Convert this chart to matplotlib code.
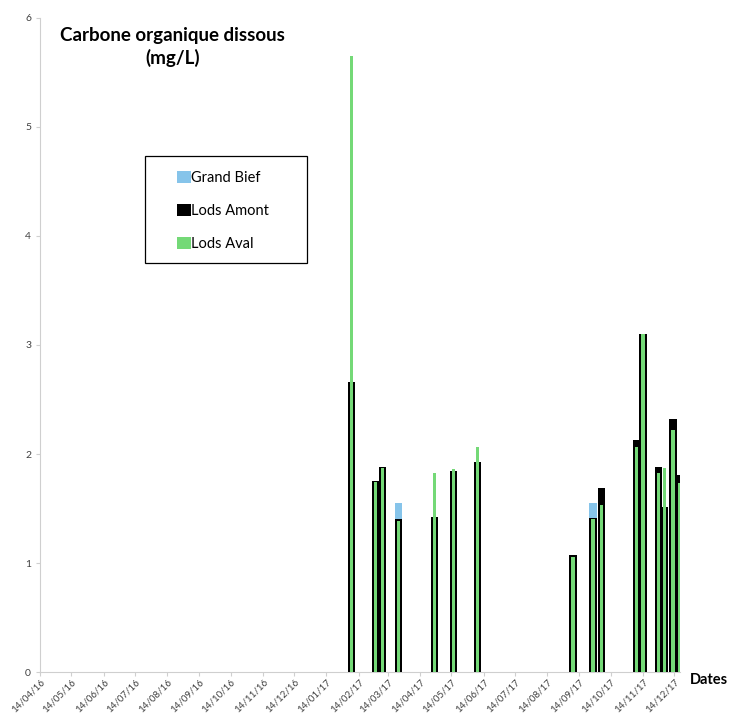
import pandas as pd
import numpy as np
import matplotlib.pyplot as plt
import matplotlib.dates as mdates
from matplotlib.patches import Rectangle

plt.rcParams['font.family'] = ['Lato', 'DejaVu Sans']

# Sampling dates and dissolved organic carbon (mg/L) per station
dates = ["07/02/17", "02/03/17", "09/03/17", "24/03/17", "28/04/17", "16/05/17",
         "08/06/17", "08/09/17", "27/09/17", "05/10/17", "08/11/17", "14/11/17",
         "29/11/17", "05/12/17", "13/12/17", "19/12/17"]
grand_bief = [np.nan, np.nan, np.nan, 1.55, np.nan, np.nan,
              np.nan, np.nan, 1.55, np.nan, np.nan, np.nan,
              np.nan, np.nan, np.nan, np.nan]
lods_amont = [2.66, 1.75, 1.88, 1.40, 1.42, 1.84,
              1.93, 1.07, 1.41, 1.69, 2.13, 3.10,
              1.88, 1.51, 2.32, 1.81]
lods_aval = [5.65, 1.74, 1.87, 1.39, 1.83, 1.86,
             2.06, 1.06, 1.40, 1.53, 2.06, 3.10,
             1.83, 1.87, 2.22, 1.73]
ticks = pd.date_range("2016-04-01", "2017-12-01", freq="MS") + pd.Timedelta(days=13)

x = pd.to_datetime(dates, format="%d/%m/%y")

fig = plt.figure(figsize=(7.3, 7.15), dpi=100)
ax = fig.add_axes([0.055, 0.060, 0.877, 0.915])

ax.bar(x, grand_bief, width=7, color="#86c4ea", zorder=2, label="Grand Bief")
ax.bar(x, lods_amont, width=7, color="black", zorder=3, label="Lods Amont")
ax.bar(x, lods_aval, width=3.2, color="#74d977", zorder=4, label="Lods Aval")

ax.set_xlim(pd.Timestamp("2016-04-14"), pd.Timestamp("2017-12-20"))
ax.set_ylim(0, 6)
ax.set_yticks(range(7))
ax.set_xticks(ticks)
ax.xaxis.set_major_formatter(mdates.DateFormatter("%d/%m/%y"))
plt.setp(ax.get_xticklabels(), rotation=45, ha="right", rotation_mode="anchor")

for s in ["top", "right"]:
    ax.spines[s].set_visible(False)
for s in ["left", "bottom"]:
    ax.spines[s].set_color("#cfcfcf")
    ax.spines[s].set_linewidth(0.8)
ax.tick_params(axis="both", colors="#cfcfcf", labelcolor="#404040",
               labelsize=7.5, length=3, width=0.8)
ax.tick_params(axis="x", labelsize=7, pad=1)

fig.text(0.236, 0.934, "Carbone organique dissous\n(mg/L)", ha="center", va="center",
         fontsize=13.5, fontweight="bold", linespacing=1.35)
fig.text(0.997, 0.049, "Dates", ha="right", va="center", fontsize=10.5, fontweight="bold")

# legend without its own frame, boxed by a separate rectangle
leg = fig.legend(loc="upper left", bbox_to_anchor=(0.243, 0.761), fontsize=10.5,
                 handlelength=0.9, handleheight=0.9, handletextpad=0.05,
                 labelspacing=1.3, borderpad=0, frameon=False, borderaxespad=0)
fig.add_artist(Rectangle((0.199, 0.632), 0.222, 0.150, transform=fig.transFigure,
                         fill=False, edgecolor="black", linewidth=0.9))

fig.savefig("out.png")
